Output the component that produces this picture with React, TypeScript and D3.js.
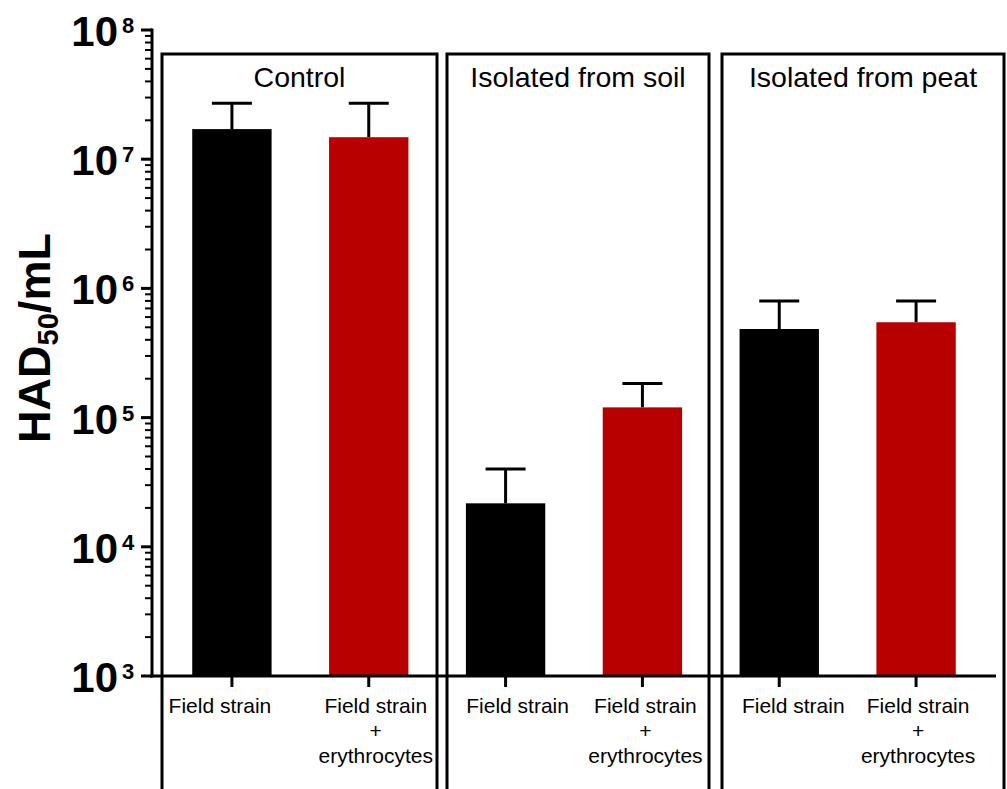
import * as d3 from "d3";

const groups = ["Control", "Isolated from soil", "Isolated from peat"];
const treatments = ["Field strain", "Field strain + erythrocytes"];
const treatmentLines = [["Field strain"], ["Field strain", "+", "erythrocytes"]];
const fieldMeans = [1.71e7, 2.17e4, 4.85e5];
const fieldSD = [1.0e7, 1.83e4, 3.13e5];
const erythroMeans = [1.48e7, 1.2e5, 5.47e5];
const erythroSD = [1.23e7, 6.4e4, 2.51e5];
const yTickExps = [3, 4, 5, 6, 7, 8];

const W = 1007, H = 789;
const FONT = "Arial, 'Liberation Sans', sans-serif";
const colors = ["#000000", "#b80000"];
// panel frames (left, right) in px
const panelEdges = [[162, 437], [447, 709], [722, 1004]];
// x label nudges relative to bar centre, px
const labelShift = [-12, 7, 12, 3, 14, 2];

export default function App() {
  const y = d3.scaleLog().domain([1e3, 1e8]).range([676, 30]);
  const keys = groups.flatMap((g) => treatments.map((t) => `${g}|${t}`));
  const x = d3.scaleBand().domain(keys).range([163.5, 984.5]).paddingInner(0.42).paddingOuter(0.21);

  const rows = groups.flatMap((g, gi) => [
    { key: `${g}|${treatments[0]}`, mean: fieldMeans[gi], sd: fieldSD[gi], t: 0 },
    { key: `${g}|${treatments[1]}`, mean: erythroMeans[gi], sd: erythroSD[gi], t: 1 },
  ]);

  const minor = y.ticks().filter((v) => !yTickExps.some((e) => Math.abs(v - 10 ** e) < 1e-6 * v));
  const bw = x.bandwidth();
  const y0 = y(1e3);

  return (
    <svg width={W} height={H} style={{ position: "absolute", left: 0, top: 0, background: "#fff" }} fontFamily={FONT}>
      {/* panels */}
      {groups.map((g, i) => {
        const [l, r] = panelEdges[i];
        return (
          <g key={g}>
            <rect x={l} y={54} width={r - l} height={H} fill="none" stroke="#000" strokeWidth={3} />
            <text x={(l + r) / 2} y={87} textAnchor="middle" fontSize={28.5} fill="#000">{g}</text>
          </g>
        );
      })}

      {/* bars */}
      {rows.map((d) => {
        const cx = (x(d.key) as number) + bw / 2;
        const top = y(d.mean);
        const cap = y(d.mean + d.sd);
        return (
          <g key={d.key}>
            <line x1={cx} x2={cx} y1={top} y2={cap} stroke="#000" strokeWidth={3} />
            <line x1={cx - 20} x2={cx + 20} y1={cap} y2={cap} stroke="#000" strokeWidth={3} />
            <rect x={x(d.key)} y={top} width={bw} height={y0 - top} fill={colors[d.t]} />
          </g>
        );
      })}

      {/* x axis */}
      <line x1={150} x2={996} y1={y0} y2={y0} stroke="#000" strokeWidth={3} />
      {rows.map((d, i) => {
        const cx = (x(d.key) as number) + bw / 2;
        return (
          <g key={"xt" + d.key}>
            <line x1={cx} x2={cx} y1={y0} y2={y0 + 11} stroke="#000" strokeWidth={3} />
            <text textAnchor="middle" fontSize={21} fill="#000">
              {treatmentLines[d.t].map((s, li) => (
                <tspan key={li} x={cx + labelShift[i]} y={713 + li * 25}>{s}</tspan>
              ))}
            </text>
          </g>
        );
      })}

      {/* y axis */}
      <line x1={152} x2={152} y1={y(1e8) - 1.5} y2={y0 + 1.5} stroke="#000" strokeWidth={3} />
      {minor.map((v) => (
        <line key={v} x1={145} x2={152} y1={y(v)} y2={y(v)} stroke="#000" strokeWidth={2} />
      ))}
      {yTickExps.map((e) => (
        <g key={e}>
          <line x1={141} x2={152} y1={y(10 ** e)} y2={y(10 ** e)} stroke="#000" strokeWidth={3} />
          <text x={118} y={y(10 ** e) + 16} textAnchor="end" fontSize={42} fontWeight="bold" fill="#000">10</text>
          <text x={122} y={y(10 ** e) + 3} textAnchor="start" fontSize={22} fontWeight="bold" fill="#000">{e}</text>
        </g>
      ))}

      {/* y title */}
      <text transform="translate(50,338) rotate(-90)" textAnchor="middle" fontSize={45} fontWeight="bold" fill="#000">
        HAD<tspan fontSize={29} dy={8}>50</tspan><tspan dy={-8}>/mL</tspan>
      </text>
    </svg>
  );
}
